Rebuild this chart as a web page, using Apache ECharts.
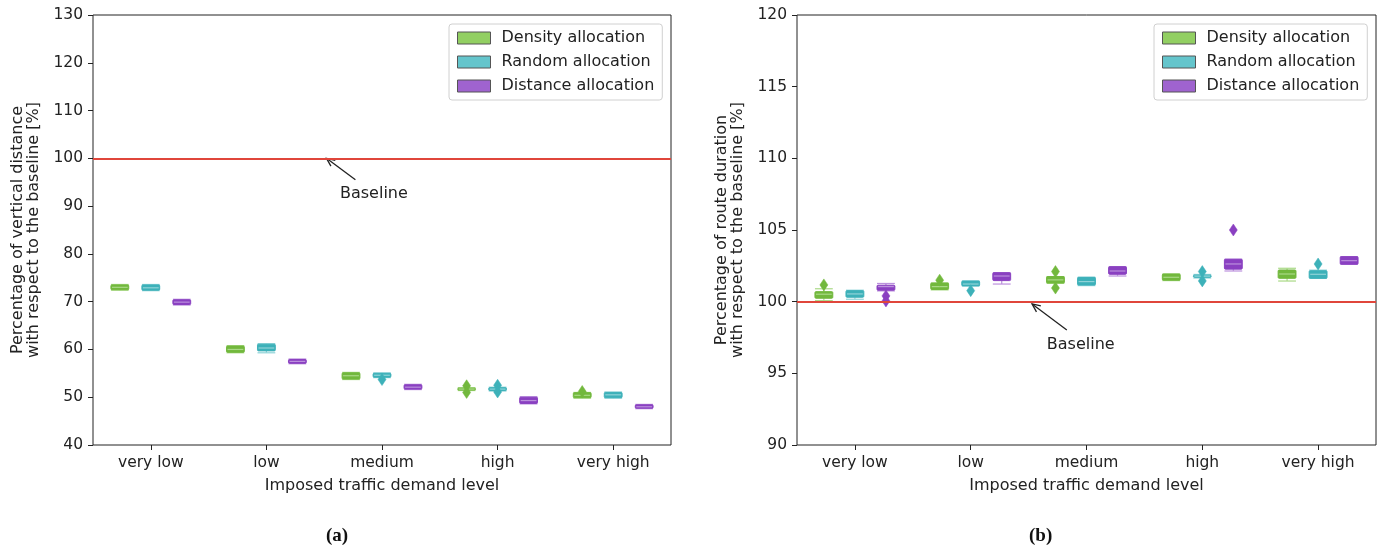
<!DOCTYPE html>
<html>
<head>
<meta charset="utf-8">
<script src="https://cdn.jsdelivr.net/npm/echarts@6/dist/echarts.min.js"></script>
<style>
html,body{margin:0;padding:0;background:#fff;}
#chart{width:1381px;height:554px;}
</style>
</head>
<body>
<div id="chart"></div>
<script>
// ---------- DATA ----------
const categories = ['very low', 'low', 'medium', 'high', 'very high'];
const seriesNames = ['Density allocation', 'Random allocation', 'Distance allocation'];

// box = [lower whisker, Q1, median, Q3, upper whisker]
// (a) vertical distance [%]
const vdDensity = [
  [72.4, 72.5, 73.0, 73.5, 73.6],
  [59.3, 59.4, 60.0, 60.7, 60.8],
  [53.7, 53.8, 54.5, 55.1, 55.2],
  [51.4, 51.5, 51.7, 51.9, 52.0],
  [49.8, 49.9, 50.4, 50.95, 51.0]
];
const vdRandom = [
  [72.3, 72.4, 72.9, 73.5, 73.6],
  [59.3, 59.7, 60.3, 61.1, 61.2],
  [54.1, 54.2, 54.6, 55.0, 55.1],
  [51.3, 51.4, 51.7, 52.0, 52.1],
  [49.8, 49.9, 50.5, 51.0, 51.1]
];
const vdDistance = [
  [69.3, 69.4, 69.9, 70.4, 70.5],
  [57.0, 57.1, 57.5, 57.9, 58.0],
  [51.6, 51.7, 52.1, 52.6, 52.7],
  [48.6, 48.7, 49.3, 50.0, 50.1],
  [47.6, 47.7, 48.0, 48.4, 48.5]
];
// fliers = [category index, value]
const vdDensityFliers = [[3, 52.4], [3, 51.0], [4, 51.2]];
const vdRandomFliers = [[2, 53.7], [3, 52.5], [3, 51.1]];
const vdDistanceFliers = [];

// (b) route duration [%]
const rdDensity = [
  [100.07, 100.24, 100.52, 100.70, 100.9],
  [100.82, 100.85, 101.05, 101.3, 101.3],
  [101.28, 101.3, 101.52, 101.75, 101.75],
  [101.47, 101.5, 101.7, 101.93, 101.93],
  [101.44, 101.63, 101.93, 102.21, 102.33]
];
const rdRandom = [
  [100.17, 100.31, 100.54, 100.77, 100.8],
  [101.1, 101.1, 101.23, 101.44, 101.44],
  [101.12, 101.16, 101.4, 101.7, 101.7],
  [101.65, 101.7, 101.78, 101.85, 101.9],
  [101.63, 101.63, 101.91, 102.16, 102.2]
];
const rdDistance = [
  [100.75, 100.8, 101.05, 101.15, 101.27],
  [101.23, 101.47, 101.79, 102.02, 102.02],
  [101.79, 101.91, 102.14, 102.44, 102.44],
  [102.14, 102.27, 102.63, 102.96, 102.96],
  [102.61, 102.61, 102.86, 103.14, 103.14]
];
const rdDensityFliers = [[0, 101.17], [1, 101.5], [2, 102.1], [2, 100.95]];
const rdRandomFliers = [[1, 100.77], [3, 102.1], [3, 101.45], [4, 102.63]];
const rdDistanceFliers = [[0, 100.4], [0, 100.05], [3, 105.0]];

const baselineValue = 100;
const yTicksA = {min: 40, max: 130, interval: 10};
const yTicksB = {min: 90, max: 120, interval: 5};
// annotation anchors in data space: [category position, value]
const annotA = {head: [1.52, 100], tail: [1.77, 95.5], text: [1.93, 92.5]};
const annotB = {head: [1.53, 99.84], tail: [1.83, 98.03], text: [1.95, 96.98]};

// ---------- STYLE ----------
const FONT = 'DejaVu Sans';
const TXT = '#222';
const FS = 16;
const fills = ['#72b83d', '#3db1b9', '#8a40c1'];
const lights = ['#a9d986', '#8fd3d8', '#bb90dd'];
const legendFills = ['#92cf62', '#64c5cc', '#9f63cf'];
const offsets = [-0.268, 0, 0.268];
const BOXW = 0.077;

function boxRender(k) {
  return function (params, api) {
    const idx = api.value(0);
    const bw = api.size([1, 0])[0];
    const cx = api.coord([idx, api.value(3)])[0] + offsets[k] * bw;
    const hw = BOXW * bw;
    const y = i => api.coord([idx, api.value(i)])[1];
    const lo = y(1), q1 = y(2), md = y(3), q3 = y(4), hi = y(5);
    const ls = {stroke: lights[k], lineWidth: 1.2};
    return {
      type: 'group',
      children: [
        {type: 'line', shape: {x1: cx, y1: lo, x2: cx, y2: q1}, style: ls},
        {type: 'line', shape: {x1: cx, y1: q3, x2: cx, y2: hi}, style: ls},
        {type: 'line', shape: {x1: cx - hw, y1: lo, x2: cx + hw, y2: lo}, style: ls},
        {type: 'line', shape: {x1: cx - hw, y1: hi, x2: cx + hw, y2: hi}, style: ls},
        {type: 'rect', shape: {x: cx - hw, y: q3, width: 2 * hw, height: Math.max(q1 - q3, 1.5), r: 1},
          style: {fill: fills[k], stroke: fills[k], lineWidth: 1}},
        {type: 'line', shape: {x1: cx - hw + 1, y1: md, x2: cx + hw - 1, y2: md}, style: {stroke: lights[k], lineWidth: 1.2}}
      ]
    };
  };
}
function flierRender(k) {
  return function (params, api) {
    const idx = api.value(0);
    const bw = api.size([1, 0])[0];
    const p = api.coord([idx, api.value(1)]);
    const cx = p[0] + offsets[k] * bw, cy = p[1];
    const a = 4, b = 6;
    return {
      type: 'polygon',
      shape: {points: [[cx, cy - b], [cx + a, cy], [cx, cy + b], [cx - a, cy]]},
      style: {fill: fills[k], stroke: fills[k], lineWidth: 0.5}
    };
  };
}
function annotRender(an) {
  return function (params, api) {
    const bw = api.size([1, 0])[0];
    const pt = d => {
      const base = Math.floor(d[0]);
      const c = api.coord([base, d[1]]);
      return [c[0] + (d[0] - base) * bw, c[1]];
    };
    const h = pt(an.head), t = pt(an.tail), tx = pt(an.text);
    const ang = Math.atan2(t[1] - h[1], t[0] - h[0]);
    const L = 9, sp = 0.42;
    const a1 = [h[0] + L * Math.cos(ang + sp), h[1] + L * Math.sin(ang + sp)];
    const a2 = [h[0] + L * Math.cos(ang - sp), h[1] + L * Math.sin(ang - sp)];
    const st = {stroke: '#222', lineWidth: 1.3, fill: null};
    return {
      type: 'group',
      children: [
        {type: 'line', shape: {x1: t[0], y1: t[1], x2: h[0], y2: h[1]}, style: st},
        {type: 'polyline', shape: {points: [a1, h, a2]}, style: st},
        {type: 'text', style: {text: 'Baseline', x: tx[0], y: tx[1], textAlign: 'center', textVerticalAlign: 'middle',
          font: FS + 'px "' + FONT + '"', fill: TXT}}
      ]
    };
  };
}

const boxSets = [[vdDensity, vdRandom, vdDistance], [rdDensity, rdRandom, rdDistance]];
const flierSets = [[vdDensityFliers, vdRandomFliers, vdDistanceFliers], [rdDensityFliers, rdRandomFliers, rdDistanceFliers]];
const annots = [annotA, annotB];

const series = [];
for (let g = 0; g < 2; g++) {
  for (let k = 0; k < 3; k++) {
    series.push({
      type: 'custom', name: seriesNames[k], xAxisIndex: g, yAxisIndex: g,
      itemStyle: {color: legendFills[k]},
      renderItem: boxRender(k),
      encode: {x: 0, y: [1, 2, 3, 4, 5]},
      data: boxSets[g][k].map((b, i) => [i].concat(b)),
      z: 3
    });
    series.push({
      type: 'custom', name: seriesNames[k], xAxisIndex: g, yAxisIndex: g,
      itemStyle: {color: legendFills[k]},
      renderItem: flierRender(k),
      encode: {x: 0, y: 1},
      data: flierSets[g][k],
      z: 3
    });
  }
  series.push({
    type: 'line', xAxisIndex: g, yAxisIndex: g, data: [], silent: true,
    markLine: {symbol: 'none', silent: true, label: {show: false}, animation: false,
      lineStyle: {color: '#e0463b', width: 1.8, type: 'solid'},
      data: [{yAxis: baselineValue}]}, z: 2
  });
  series.push({
    type: 'custom', xAxisIndex: g, yAxisIndex: g, silent: true,
    renderItem: annotRender(annots[g]), encode: {x: 0, y: 1}, data: [[0, baselineValue]], z: 4
  });
}

function xAxis(g) {
  return {
    type: 'category', gridIndex: g, data: categories,
    axisLine: {show: false},
    axisTick: {show: true, alignWithLabel: true, length: 5, lineStyle: {color: '#222'}},
    axisLabel: {color: TXT, fontFamily: FONT, fontSize: 15.5, margin: 10},
    name: 'Imposed traffic demand level', nameLocation: 'middle', nameGap: 33,
    nameTextStyle: {color: TXT, fontFamily: FONT, fontSize: FS},
    splitLine: {show: false}
  };
}
function yAxis(g, t, name) {
  return {
    type: 'value', gridIndex: g, min: t.min, max: t.max, interval: t.interval,
    axisLine: {show: false},
    axisTick: {show: true, length: 5, lineStyle: {color: '#222'}},
    axisLabel: {color: TXT, fontFamily: FONT, fontSize: 15.5, margin: 10},
    splitLine: {show: false},
    name: name, nameLocation: 'middle', nameGap: 51, nameRotate: 90,
    nameTextStyle: {color: TXT, fontFamily: FONT, fontSize: FS, lineHeight: 16}
  };
}
function legend(left) {
  return {
    orient: 'vertical', left: left, top: 24, icon: 'rect',
    itemWidth: 33, itemHeight: 12, itemGap: 8,
    padding: [6, 8, 6, 8],
    backgroundColor: 'rgba(255,255,255,0.85)', borderColor: '#d0d0d0', borderWidth: 1, borderRadius: 3,
    textStyle: {color: TXT, fontFamily: FONT, fontSize: FS, padding: [0, 0, 0, 6]},
    selectedMode: false,
    data: seriesNames.map((n, k) => ({name: n, itemStyle: {color: legendFills[k], borderColor: '#555', borderWidth: 1}}))
  };
}

const chart = echarts.init(document.getElementById('chart'), null, {renderer: 'canvas'});
chart.setOption({
  animation: false,
  backgroundColor: '#fff',
  grid: [
    {left: 93, top: 15, width: 578, height: 430, show: true, borderColor: '#222', borderWidth: 1, backgroundColor: 'transparent'},
    {left: 797, top: 15, width: 579, height: 430, show: true, borderColor: '#222', borderWidth: 1, backgroundColor: 'transparent'}
  ],
  xAxis: [xAxis(0), xAxis(1)],
  yAxis: [
    yAxis(0, yTicksA, 'Percentage of vertical distance\nwith respect to the baseline [%]'),
    yAxis(1, yTicksB, 'Percentage of route duration\nwith respect to the baseline [%]')
  ],
  legend: [legend(449), legend(1154)],
  graphic: [
    {type: 'text', left: 326, top: 527, style: {text: '(a)', font: 'bold 19px "Liberation Serif"', fill: '#111'}},
    {type: 'text', left: 1029, top: 527, style: {text: '(b)', font: 'bold 19px "Liberation Serif"', fill: '#111'}}
  ],
  series: series
});
</script>
</body>
</html>
